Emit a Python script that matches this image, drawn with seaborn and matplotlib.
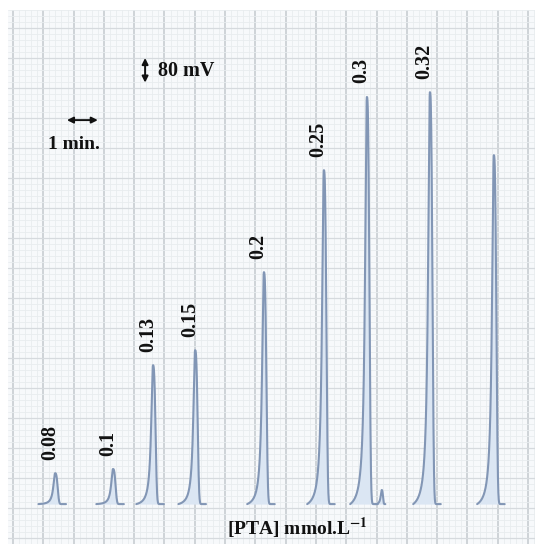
import numpy as np
import pandas as pd
import matplotlib
matplotlib.use("Agg")
import matplotlib.pyplot as plt
from matplotlib.ticker import MultipleLocator
import seaborn as sns

# ---- data ----
peak_labels = ["0.08", "0.1", "0.13", "0.15", "0.2", "0.25", "0.3", "", "0.32", ""]
peak_times = [1.39, 3.30, 4.62, 6.01, 8.28, 10.26, 11.68, 12.17, 13.76, 15.87]   # min
peak_heights = [103, 117, 463, 513, 773, 1113, 1357, 47, 1373, 1163]           # mV
xlabel_text = "[PTA] mmol.L$^{\\mathbf{-1}}$"

# ---- build peak traces (simple asymmetric peak profile) ----
rows = []
for i, (t0, h) in enumerate(zip(peak_times, peak_heights)):
    small = h < 80
    a = 0.04 if small else 0.07
    wr = 0.05 if small else 0.10
    D = 0.2 if small else 0.55
    R = 0.12 if small else 0.36
    left = np.linspace(t0 - D, t0, 150)
    right = np.linspace(t0, t0 + R, 80)[1:]
    end = 1 / (1 + (D / a) ** 2)
    yl = h * (1 / (1 + ((t0 - left) / a) ** 2) - end) / (1 - end)
    yr = h * np.exp(-((right - t0) / wr) ** 3)
    for t, y in zip(np.r_[left, right], np.r_[yl, yr]):
        rows.append({"peak": i, "t": t, "mV": y})
df = pd.DataFrame(rows)

sns.set_style("white")
plt.rcParams["mathtext.fontset"] = "stix"
serif = ["Liberation Serif", "DejaVu Serif"]

fig = plt.figure(figsize=(5.35, 5.44), dpi=100)
ax = fig.add_axes([8 / 535, 0, 527 / 535, 534 / 544])
ax.set_facecolor("#f7f9fb")

# grid paper
ax.xaxis.set_major_locator(MultipleLocator(1))
ax.xaxis.set_minor_locator(MultipleLocator(0.2))
ax.yaxis.set_major_locator(MultipleLocator(100, offset=87))
ax.yaxis.set_minor_locator(MultipleLocator(20, offset=7))
ax.grid(which="major", axis="x", color="#c4c9ce", lw=1.1)
ax.grid(which="major", axis="y", color="#d6dade", lw=0.9)
ax.grid(which="minor", color="#e8ecef", lw=0.6)
ax.set_axisbelow(True)
ax.tick_params(which="both", length=0, labelbottom=False, labelleft=False)
for s in ax.spines.values():
    s.set_visible(False)

# light fills under peaks
for i, g in df.groupby("peak"):
    ax.fill_between(g["t"], 0, g["mV"], color="#dbe6f3", lw=0, zorder=2)

sns.lineplot(data=df, x="t", y="mV", units="peak", estimator=None, sort=False,
             color="#8296b5", lw=1.5, ax=ax, zorder=3, legend=False)

# concentration labels
for lab, t0, h in zip(peak_labels, peak_times, peak_heights):
    if lab:
        ax.text(t0 - 0.17, h + 45, lab, rotation=90, ha="center", va="bottom",
                family=serif, fontweight="bold", fontsize=14.5, color="#111111", zorder=4)

# scale bars
ax.annotate("", xy=(1.78, 1280), xytext=(2.80, 1280),
            arrowprops=dict(arrowstyle="<|-|>", color="#111111", lw=1.4,
                            mutation_scale=9, shrinkA=0, shrinkB=0))
ax.text(2.0, 1197, "1 min.", ha="center", va="center", family=serif,
        fontweight="bold", fontsize=14, color="#111111")
ax.annotate("", xy=(4.36, 1405), xytext=(4.36, 1487),
            arrowprops=dict(arrowstyle="<|-|>", color="#111111", lw=1.4,
                            mutation_scale=9, shrinkA=0, shrinkB=0))
ax.text(4.8, 1445, "80 mV", ha="left", va="center", family=serif,
        fontweight="bold", fontsize=14.5, color="#111111")

ax.text(9.4, -80, xlabel_text, ha="center", va="center", family=serif,
        fontweight="bold", fontsize=14, color="#111111")

ax.set_xlim(-0.165, 17.23)
ax.set_ylim(-133, 1647)
ax.set_xlabel("")
ax.set_ylabel("")

fig.savefig("out.png", dpi=100, facecolor="white")
